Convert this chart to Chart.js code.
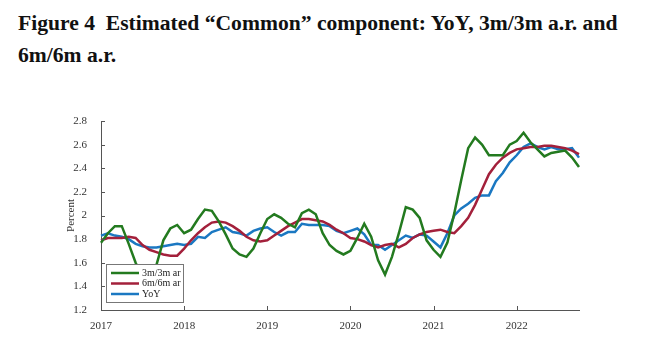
<!DOCTYPE html>
<html>
<head>
<meta charset="utf-8">
<script src="https://cdn.jsdelivr.net/npm/chart.js@4.4.1/dist/chart.umd.min.js"></script>
<style>
  html, body { margin: 0; padding: 0; background: #fff; }
  #wrap { position: relative; width: 645px; height: 347px; overflow: hidden; }
  #title {
    position: absolute; left: 18px; top: 7px;
    font: bold 21.6px "Liberation Serif", serif; line-height: 32px; color: #111;
    white-space: nowrap;
  }
  canvas { position: absolute; left: 0; top: 0; }
</style>
</head>
<body>
<div id="wrap">
  <div id="title">Figure 4&nbsp; Estimated “Common” component: YoY, 3m/3m a.r. and<br>6m/6m a.r.</div>
  <canvas id="chart" width="645" height="347"></canvas>
</div>
<script>
// months Jan 2017 .. Oct 2022
const years = [2017, 2018, 2019, 2020, 2021, 2022]
const months = []
years.forEach(y => {
  for (let m = 1; m <= 12; m++) {
    if (y === 2022 && m > 10) break
    months.push(y + "-" + String(m).padStart(2, "0"))
  }
})

const threeMonth = [
  1.77, 1.85, 1.91, 1.91, 1.76, 1.60, 1.47, 1.44, 1.58, 1.79, 1.89, 1.92,
  1.85, 1.88, 1.97, 2.05, 2.04, 1.95, 1.84, 1.72, 1.67, 1.65, 1.72, 1.85,
  1.97, 2.01, 1.98, 1.93, 1.90, 2.02, 2.05, 2.01, 1.85, 1.75, 1.70, 1.67,
  1.70, 1.81, 1.93, 1.82, 1.62, 1.50, 1.65, 1.85, 2.07, 2.05, 1.98, 1.79,
  1.71, 1.65, 1.77, 2.02, 2.30, 2.57, 2.66, 2.60, 2.51, 2.51, 2.51, 2.60,
  2.63, 2.70, 2.62, 2.56, 2.50, 2.53, 2.54, 2.55, 2.49, 2.41
]
const sixMonth = [
  1.79, 1.81, 1.81, 1.81, 1.82, 1.81, 1.75, 1.71, 1.69, 1.67, 1.66, 1.66,
  1.72, 1.79, 1.85, 1.90, 1.94, 1.95, 1.94, 1.91, 1.87, 1.82, 1.79, 1.78,
  1.79, 1.83, 1.87, 1.91, 1.94, 1.97, 1.97, 1.96, 1.95, 1.92, 1.88, 1.85,
  1.81, 1.80, 1.78, 1.75, 1.73, 1.75, 1.76, 1.73, 1.76, 1.81, 1.84, 1.86,
  1.87, 1.88, 1.86, 1.85, 1.91, 1.98, 2.09, 2.22, 2.35, 2.43, 2.49, 2.53,
  2.56, 2.57, 2.58, 2.58, 2.59, 2.59, 2.58, 2.57, 2.55, 2.52
]
const yoy = [
  1.83, 1.85, 1.83, 1.82, 1.80, 1.76, 1.74, 1.73, 1.73, 1.74, 1.75, 1.76,
  1.75, 1.76, 1.82, 1.81, 1.86, 1.88, 1.90, 1.86, 1.85, 1.83, 1.87, 1.89,
  1.90, 1.86, 1.83, 1.86, 1.86, 1.93, 1.92, 1.92, 1.92, 1.91, 1.87, 1.85,
  1.87, 1.89, 1.84, 1.75, 1.75, 1.71, 1.75, 1.79, 1.83, 1.81, 1.84, 1.83,
  1.78, 1.73, 1.85, 2.00, 2.06, 2.10, 2.15, 2.17, 2.17, 2.29, 2.36, 2.45,
  2.51, 2.58, 2.61, 2.58, 2.56, 2.58, 2.56, 2.56, 2.57, 2.49
]
const yTicks = [1.2, 1.4, 1.6, 1.8, 2, 2.2, 2.4, 2.6, 2.8]

const seriesNames = ["3m/3m ar", "6m/6m ar", "YoY"]
const seriesColors = ["#237a1f", "#a3203b", "#1b78c2"]
const serif = "'Liberation Serif', 'Times New Roman', serif"
const axisColor = "#555"

// tick marks pointing into the plot, like the original
const inwardTicks = {
  id: "inwardTicks",
  afterDraw(chart) {
    const ctx = chart.ctx
    const xs = chart.scales.x
    const ys = chart.scales.y
    ctx.save()
    ctx.strokeStyle = axisColor
    ctx.lineWidth = 1
    ctx.beginPath()
    xs.ticks.forEach((t, i) => {
      if (!t.label) return
      const px = Math.round(xs.getPixelForTick(i)) + 0.5
      ctx.moveTo(px, xs.top)
      ctx.lineTo(px, xs.top - 4)
    })
    ys.ticks.forEach((t, i) => {
      const py = Math.round(ys.getPixelForTick(i)) + 0.5
      ctx.moveTo(ys.right, py)
      ctx.lineTo(ys.right + 4, py)
    })
    ctx.stroke()
    ctx.restore()
  }
}

// boxed legend in the lower left corner of the plot
const boxLegend = {
  id: "boxLegend",
  afterDatasetsDraw(chart) {
    const ctx = chart.ctx
    const area = chart.chartArea
    const x0 = area.left + 5
    const y0 = area.bottom - 46
    const w = 77
    const h = 38
    ctx.save()
    ctx.fillStyle = "#fff"
    ctx.fillRect(x0, y0, w, h)
    ctx.strokeStyle = "#777"
    ctx.lineWidth = 1
    ctx.strokeRect(x0 + 0.5, y0 + 0.5, w, h)
    ctx.font = "10px " + serif
    ctx.textBaseline = "middle"
    chart.data.datasets.forEach((ds, i) => {
      const yy = y0 + 9 + i * 10.5
      ctx.strokeStyle = ds.borderColor
      ctx.lineWidth = 2.5
      ctx.beginPath()
      ctx.moveTo(x0 + 5, yy)
      ctx.lineTo(x0 + 33, yy)
      ctx.stroke()
      ctx.fillStyle = "#222"
      ctx.fillText(ds.label, x0 + 36, yy)
    })
    ctx.restore()
  }
}

new Chart(document.getElementById("chart"), {
  type: "line",
  data: {
    labels: months,
    datasets: [threeMonth, sixMonth, yoy].map((vals, i) => ({
      label: seriesNames[i],
      data: vals,
      borderColor: seriesColors[i],
      borderWidth: 2.5,
      pointRadius: 0,
      tension: 0,
      fill: false
    }))
  },
  options: {
    responsive: false,
    animation: false,
    layout: { padding: { left: 65, top: 121, right: 66, bottom: 12 } },
    plugins: {
      legend: { display: false },
      tooltip: { enabled: false }
    },
    scales: {
      x: {
        type: "category",
        offset: false,
        grid: { display: false },
        border: { display: true, color: axisColor, width: 1 },
        ticks: {
          autoSkip: false,
          maxRotation: 0,
          color: "#333",
          font: { family: serif, size: 11 },
          padding: 2,
          callback(value, index) {
            const lab = months[index]
            return lab.endsWith("-01") ? lab.slice(0, 4) : null
          }
        },
        afterFit(scale) { scale.height = 25 }
      },
      y: {
        min: 1.2,
        max: 2.8,
        grid: { display: false },
        border: { display: true, color: axisColor, width: 1 },
        afterBuildTicks(scale) { scale.ticks = yTicks.map(v => ({ value: v })) },
        ticks: {
          color: "#333",
          font: { family: serif, size: 11 },
          padding: 6,
          callback: v => String(Number(v.toFixed(1)))
        },
        title: {
          display: true,
          text: "Percent",
          color: "#333",
          font: { family: serif, size: 11 },
          padding: { top: 0, bottom: 2 }
        },
        afterFit(scale) { scale.width = 36 }
      }
    }
  },
  plugins: [inwardTicks, boxLegend]
})
</script>
</body>
</html>
